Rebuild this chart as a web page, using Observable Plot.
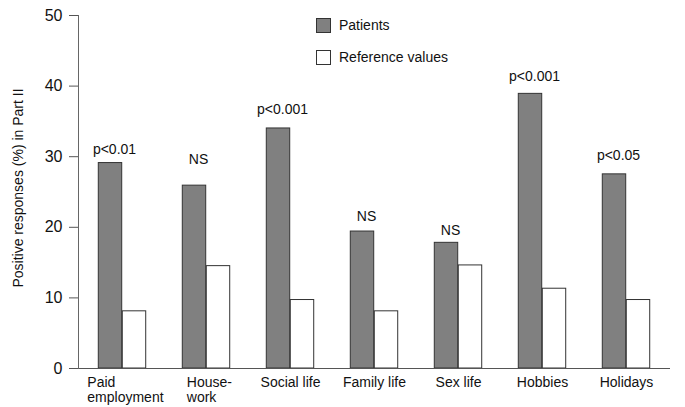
<!DOCTYPE html>
<html>
<head>
<meta charset="utf-8">
<script src="https://cdn.jsdelivr.net/npm/d3@7"></script>
<script src="https://cdn.jsdelivr.net/npm/@observablehq/plot@0.6"></script>
<style>
  html, body { margin: 0; padding: 0; background: #fff; }
  #wrap { position: relative; width: 685px; height: 407px; font-family: "Liberation Sans", Arial, sans-serif; color: #111; }
  .leg { position: absolute; left: 316px; display: flex; align-items: center; font-size: 14px; }
  .sw { width: 13px; height: 13px; border: 1px solid #333; box-sizing: content-box; margin-right: 8px; }
</style>
</head>
<body>
<div id="wrap">
  <div class="leg" style="top:17px"><div class="sw" style="background:#808080"></div>Patients</div>
  <div class="leg" style="top:49px"><div class="sw" style="background:#fff"></div>Reference values</div>
</div>
<script>
const categories = ["Paid\nemployment", "House-\nwork", "Social life", "Family life", "Sex life", "Hobbies", "Holidays"];
const patients = [29.1, 25.9, 34.0, 19.4, 17.8, 38.9, 27.5];
const reference = [8.1, 14.5, 9.7, 8.1, 14.6, 11.3, 9.7];
const significance = ["p<0.01", "NS", "p<0.001", "NS", "NS", "p<0.001", "p<0.05"];
const significanceY = [30.4, 28.9, 36.0, 20.9, 18.9, 40.7, 29.6];
const yTicks = [0, 10, 20, 30, 40, 50];
const yTitle = "Positive responses (%) in Part II";

const data = categories.map((c, i) => ({
  cat: c, patients: patients[i], reference: reference[i],
  sig: significance[i], sigY: significanceY[i]
}));

const W = 685, H = 407, mL = 78, mR = 15;
const band = (W - mL - mR) / categories.length;
const barW = 24;

const chart = Plot.plot({
  width: W, height: H,
  marginLeft: mL, marginRight: mR, marginTop: 15, marginBottom: 39,
  style: { fontFamily: "Liberation Sans, Arial, sans-serif", color: "#111", background: "transparent" },
  x: { domain: categories, padding: 0, label: null },
  y: { domain: [0, 50], label: null },
  marks: [
    Plot.barY(data, { x: "cat", y: "patients", fill: "#808080", stroke: "#333", strokeWidth: 1,
      insetLeft: band / 2 - barW, insetRight: band / 2 }),
    Plot.barY(data, { x: "cat", y: "reference", fill: "#fff", stroke: "#333", strokeWidth: 1,
      insetLeft: band / 2, insetRight: band / 2 - barW }),
    Plot.text(data, { x: "cat", y: "sigY", text: "sig", dx: -barW / 2 + 4, lineAnchor: "bottom",
      fontSize: 14, fill: "#111" }),
    Plot.ruleY([0], { stroke: "#555" }),
    Plot.frame({ anchor: "left", stroke: "#666" }),
    Plot.axisY({ ticks: yTicks, tickSize: 9, tickPadding: 7, fontSize: 16, stroke: "#555", label: null }),
    Plot.text([yTitle], { frameAnchor: "left", textAnchor: "middle", lineAnchor: "middle", rotate: -90,
      dx: -60, dy: -4, fontSize: 14, fill: "#111" }),
    Plot.axisX({ tickSize: 0, tickPadding: 7, fontSize: 14, lineHeight: 1.12, label: null })
  ]
});
document.getElementById("wrap").prepend(chart);

// Left-align the lines of multi-line category labels, keeping the block centred on its group
chart.querySelectorAll('g[aria-label="x-axis tick label"] text').forEach(t => {
  const spans = t.querySelectorAll("tspan");
  if (spans.length > 1) {
    const w = t.getBBox().width;
    t.setAttribute("text-anchor", "start");
    spans.forEach(s => s.setAttribute("x", (-w / 2 + 3).toFixed(1)));
  }
});
</script>
</body>
</html>
